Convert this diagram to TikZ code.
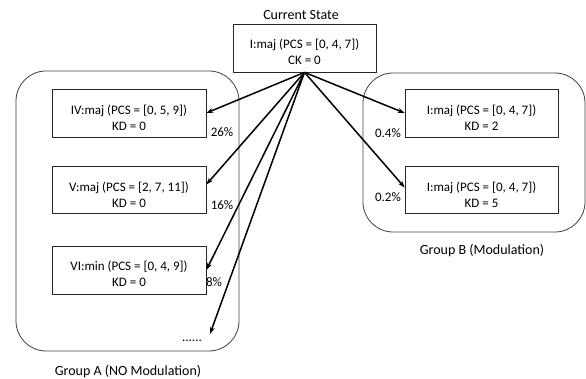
\documentclass[tikz,border=0pt]{standalone}
\usepackage{fontspec}
\setmainfont{Carlito}
\usetikzlibrary{arrows.meta,calc}
\begin{document}
\begin{tikzpicture}[x=1pt,y=-1pt,
  every node/.style={font=\fontsize{13}{16}\selectfont},
  chord/.style={draw=black!85,line width=0.7pt,minimum width=154pt,minimum height=48pt,inner sep=0pt},
  btext/.style={align=center,inner sep=0pt},
  group/.style={draw=black!75,line width=0.8pt,rounded corners=30pt},
  trans/.style={line width=1.5pt,-{Stealth[length=7pt,width=5pt]}},
  lbl/.style={inner sep=0pt},
  title/.style={inner sep=0pt,font=\fontsize{14}{16}\selectfont}]
\useasboundingbox (0,0) rectangle (586,379);
% groups
\draw[group] (16,71) rectangle (239,351);
\draw[group] (363,73) rectangle (585,232);
% boxes
\node[chord,minimum width=143pt] (cur) at (304.5,48) {};
\node[chord] (iv) at (129,113) {};
\node[chord,minimum height=47pt] (v) at (129,189.5) {};
\node[chord] (vi) at (129,270) {};
\node[chord,minimum width=153pt] (b1) at (481.5,113) {};
\node[chord,minimum width=153pt,minimum height=47pt] (b2) at (481.5,189.5) {};
% box texts
\node[btext] (curx) at ([yshift=-4pt]cur.center) {I:maj (PCS = [0, 4, 7])\\CK = 0};
\node[btext] (ivx) at ([yshift=-5pt]iv.center) {IV:maj (PCS = [0, 5, 9])\\KD = 0};
\node[btext] (vx) at ([yshift=-5pt]v.center) {V:maj (PCS = [2, 7, 11])\\KD = 0};
\node[btext] (vix) at ([yshift=-4pt]vi.center) {VI:min (PCS = [0, 4, 9])\\KD = 0};
\node[btext] (b1x) at ([yshift=-5pt]b1.center) {I:maj (PCS = [0, 4, 7])\\KD = 2};
\node[btext] (b2x) at ([yshift=-5pt]b2.center) {I:maj (PCS = [0, 4, 7])\\KD = 5};
\node[title] (curt) at (301,15) {Current State};
\node[lbl] (dots) at (192,341) {......};
\coordinate (dend) at (210,334);
% labels
\node[lbl] (p1) at (222,132) {26\%};
\node[lbl] (p2) at (222,205) {16\%};
\node[lbl] (p3) at (214,282) {8\%};
\node[lbl] (p4) at (388,133) {0.4\%};
\node[lbl] (p5) at (388,197) {0.2\%};
\node[title] (ga) at (128,372) {Group A (NO Modulation)};
\node[title] (gb) at (482,251) {Group B (Modulation)};
% arrows
\draw[trans] (cur.south) -- (iv.east);
\draw[trans] (cur.south) -- ([yshift=5pt]v.east);
\draw[trans] (cur.south) -- (vi.east);
\draw[trans] (cur.south) -- (dend);
\draw[trans] (cur.south) -- (b1.west);
\draw[trans] (cur.south) -- ([yshift=2pt]b2.west);
\end{tikzpicture}
\end{document}
